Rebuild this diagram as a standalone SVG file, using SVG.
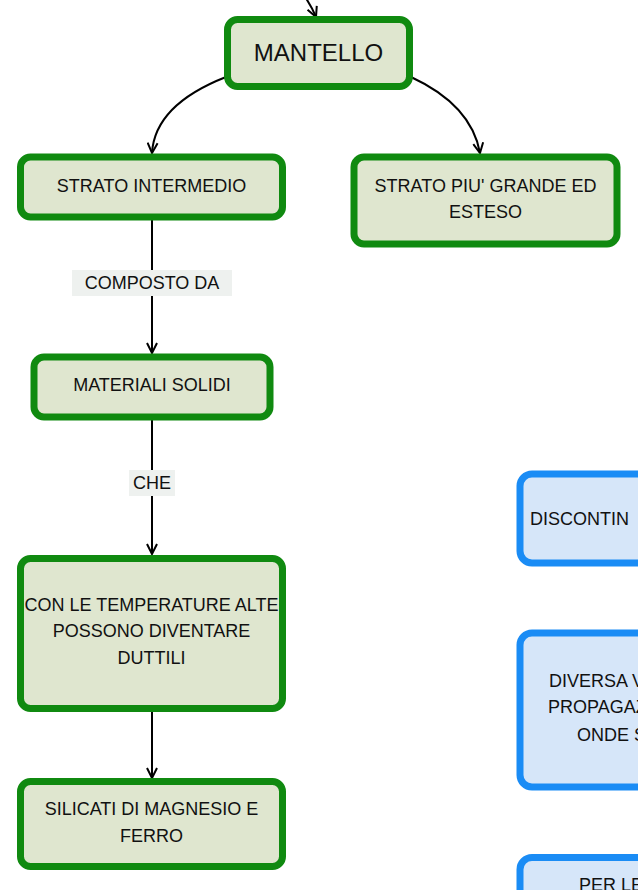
<svg xmlns="http://www.w3.org/2000/svg" width="638" height="890" viewBox="0 0 638 890">
<style>
.g rect{fill:#dfe6cf;stroke:#108a10;stroke-width:7}
.b rect{fill:#d6e6f9;stroke:#1a8cf5;stroke-width:7}
text{font-family:"Liberation Sans","DejaVu Sans",sans-serif;font-size:18px;fill:#111}
.c{text-anchor:middle}
.conn path{fill:none;stroke:#000;stroke-width:2}
.lbl rect{fill:#eef1ef}
</style>
<defs>
<marker id="ar" viewBox="0 0 12 12" refX="11" refY="6" markerWidth="12" markerHeight="12" markerUnits="userSpaceOnUse" orient="auto">
<path d="M1,1 L11,6 L1,11" fill="none" stroke="#000" stroke-width="2"/>
</marker>
</defs>
<rect width="638" height="890" fill="#fff"/>
<g class="conn">
<path d="M303,-6 Q311,5 316,17" marker-end="url(#ar)"/>
<path d="M226,77 C180,95 154,120 152,153" marker-end="url(#ar)"/>
<path d="M411,77 C450,95 474,120 480,153" marker-end="url(#ar)"/>
<path d="M152,220 L152,353" marker-end="url(#ar)"/>
<path d="M152,420 L152,554" marker-end="url(#ar)"/>
<path d="M152,712 L152,778" marker-end="url(#ar)"/>
</g>
<g class="lbl" id="lbl-composto">
<rect x="72" y="270" width="160" height="26"/>
<text class="c" x="152" y="289">COMPOSTO DA</text>
</g>
<g class="lbl" id="lbl-che">
<rect x="129" y="470" width="46" height="26"/>
<text class="c" x="152" y="489">CHE</text>
</g>
<g class="g" id="mantello">
<rect x="227.5" y="19.5" width="182" height="67" rx="10"/>
<text class="c" x="318.5" y="61" style="font-size:24px">MANTELLO</text>
</g>
<g class="g" id="strato-intermedio">
<rect x="20.5" y="157" width="262" height="60" rx="10"/>
<text class="c" x="151.5" y="192">STRATO INTERMEDIO</text>
</g>
<g class="g" id="strato-grande">
<rect x="354" y="157" width="263" height="87" rx="10"/>
<text class="c" x="485.5" y="192">STRATO PIU' GRANDE ED</text>
<text class="c" x="485.5" y="218">ESTESO</text>
</g>
<g class="g" id="materiali-solidi">
<rect x="34" y="357" width="236" height="60" rx="10"/>
<text class="c" x="152" y="391">MATERIALI SOLIDI</text>
</g>
<g class="g" id="temperature">
<rect x="20.5" y="558.5" width="262" height="150" rx="10"/>
<text class="c" x="151.5" y="611">CON LE TEMPERATURE ALTE</text>
<text class="c" x="151.5" y="637">POSSONO DIVENTARE</text>
<text class="c" x="151.5" y="664">DUTTILI</text>
</g>
<g class="g" id="silicati">
<rect x="20.5" y="781.5" width="262" height="85" rx="10"/>
<text class="c" x="151.5" y="815">SILICATI DI MAGNESIO E</text>
<text class="c" x="151.5" y="842">FERRO</text>
</g>
<g class="b" id="discontin">
<rect x="520" y="474" width="200" height="89" rx="12"/>
<text x="530" y="525">DISCONTIN</text>
</g>
<g class="b" id="diversa">
<rect x="520" y="633" width="200" height="154" rx="12"/>
<text x="549" y="687">DIVERSA V</text>
<text x="548" y="713">PROPAGAZ</text>
<text x="577" y="741">ONDE S</text>
</g>
<g class="b" id="per-le">
<rect x="520" y="857.5" width="200" height="80" rx="12"/>
<text x="579" y="891">PER LE</text>
</g>
</svg>
